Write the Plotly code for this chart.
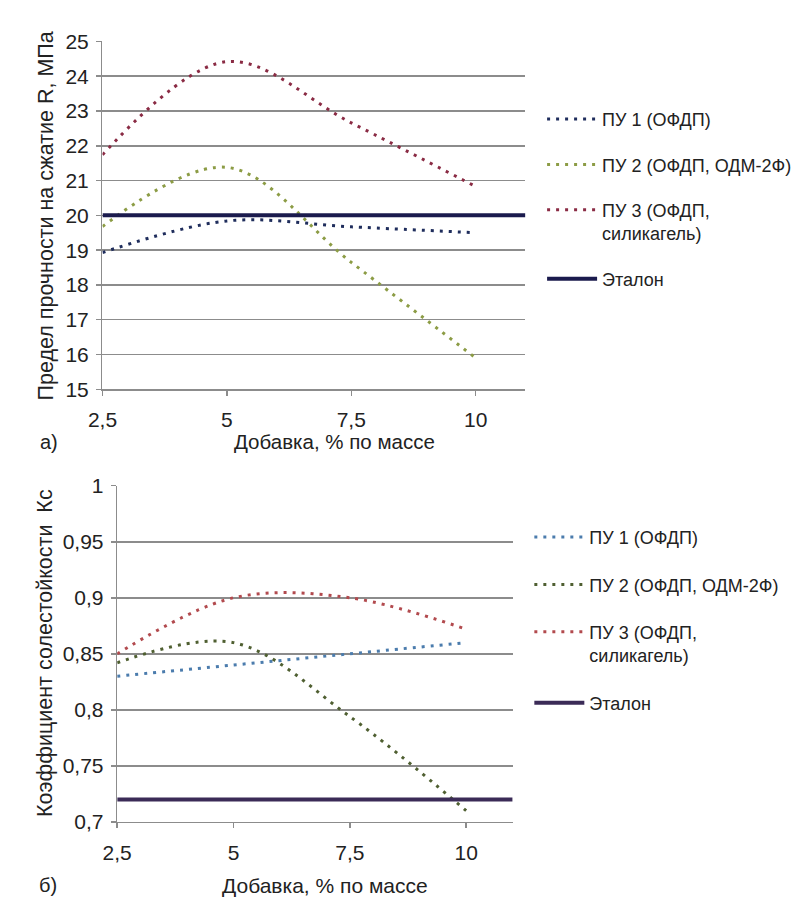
import plotly.graph_objects as go

# ---------------- data ----------------
x_vals = [2.5, 5, 7.5, 10]
etalon_x = [2.5, 11]

top_pu1 = [18.93, 19.84, 19.67, 19.5]
top_pu2 = [19.68, 21.38, 18.65, 15.9]
top_pu3 = [21.74, 24.42, 22.66, 20.83]
top_etalon = [20, 20]

bot_pu1 = [0.83, 0.84, 0.85, 0.86]
bot_pu2 = [0.842, 0.86, 0.794, 0.71]
bot_pu3 = [0.85, 0.90, 0.90, 0.872]
bot_etalon = [0.72, 0.72]

names = ["ПУ 1 (ОФДП)", "ПУ 2 (ОФДП, ОДМ-2Ф)", "ПУ 3 (ОФДП,<br>силикагель)", "Эталон"]

top_colors = ["#1f2d5c", "#8c9c45", "#8a2b44", "#1b1b4d"]
bot_colors = ["#4b7cad", "#4f5f31", "#b24a4e", "#3b2b57"]

W, H = 801, 897
FONT = "Liberation Sans, Arial, sans-serif"
GRID = "#8c8c8c"
DOT = "3px,6px"


def px_x(p):
    return p / W


def px_y(p):
    return 1 - p / H


fig = go.Figure()

# top chart traces
for i, ys in enumerate([top_pu1, top_pu2, top_pu3]):
    fig.add_trace(go.Scatter(
        x=x_vals, y=ys, mode="lines", name=names[i],
        line=dict(color=top_colors[i], width=3, dash=DOT, shape="spline", smoothing=1),
        xaxis="x", yaxis="y", legend="legend", legendgroup="t%d" % i,
    ))
fig.add_trace(go.Scatter(
    x=etalon_x, y=top_etalon, mode="lines", name=names[3],
    line=dict(color=top_colors[3], width=4),
    xaxis="x", yaxis="y", legend="legend", legendgroup="t3",
))

# bottom chart traces
for i, ys in enumerate([bot_pu1, bot_pu2, bot_pu3]):
    fig.add_trace(go.Scatter(
        x=x_vals, y=ys, mode="lines", name=names[i],
        line=dict(color=bot_colors[i], width=3, dash=DOT, shape="spline", smoothing=1),
        xaxis="x2", yaxis="y2", legend="legend2", legendgroup="b%d" % i,
    ))
fig.add_trace(go.Scatter(
    x=etalon_x, y=bot_etalon, mode="lines", name=names[3],
    line=dict(color=bot_colors[3], width=4),
    xaxis="x2", yaxis="y2", legend="legend2", legendgroup="b3",
))

tickfont = dict(family=FONT, size=21, color="#222222")
xcommon = dict(range=[2.5, 11], tick0=2.5, dtick=2.5, showgrid=False, showline=True,
               linecolor=GRID, linewidth=1.5, ticks="outside", ticklen=5, tickcolor=GRID,
               tickwidth=1.5, tickfont=tickfont, zeroline=False, fixedrange=True,
               ticklabelstandoff=6)
ycommon = dict(showgrid=True, gridcolor=GRID, gridwidth=1.5, showline=True, linecolor=GRID,
               linewidth=1.5, ticks="outside", ticklen=5, tickcolor=GRID, tickwidth=1.5,
               tickfont=tickfont, zeroline=False, fixedrange=True, ticklabelstandoff=3)

legfont = dict(family=FONT, size=18, color="#222222")

fig.update_layout(
    width=W, height=H,
    margin=dict(l=0, r=0, t=0, b=0),
    paper_bgcolor="white", plot_bgcolor="white",
    separators=", ",
    hovermode=False,
    font=dict(family=FONT, color="#222222"),
    xaxis=dict(domain=[px_x(81), px_x(512)], anchor="y", **xcommon),
    yaxis=dict(domain=[px_y(379), px_y(22)], anchor="x", range=[15, 25], dtick=1, **ycommon),
    xaxis2=dict(domain=[px_x(96), px_x(499)], anchor="y2", **xcommon),
    yaxis2=dict(domain=[px_y(823), px_y(478)], anchor="x2", range=[0.7, 1], dtick=0.05, **ycommon),
    legend=dict(x=px_x(529), y=px_y(83), xanchor="left", yanchor="top", font=legfont,
                traceorder="grouped", tracegroupgap=19, itemwidth=50, valign="top",
                bgcolor="rgba(0,0,0,0)"),
    legend2=dict(x=px_x(516), y=px_y(512), xanchor="left", yanchor="top", font=legfont,
                 traceorder="grouped", tracegroupgap=21, itemwidth=50, valign="top",
                 bgcolor="rgba(0,0,0,0)"),
    annotations=[
        dict(text="Добавка, % по массе", x=px_x(317), y=px_y(433), xref="paper", yref="paper",
             showarrow=False, font=dict(family=FONT, size=20.5), xanchor="center", yanchor="middle"),
        dict(text="Добавка, % по массе", x=px_x(308), y=px_y(888), xref="paper", yref="paper",
             showarrow=False, font=dict(family=FONT, size=21), xanchor="center", yanchor="middle"),
        dict(text="а)", x=px_x(26), y=px_y(433), xref="paper", yref="paper",
             showarrow=False, font=dict(family=FONT, size=20), xanchor="center", yanchor="middle"),
        dict(text="б)", x=px_x(25), y=px_y(888), xref="paper", yref="paper",
             showarrow=False, font=dict(family=FONT, size=20), xanchor="center", yanchor="middle"),
        dict(text="Предел прочности на сжатие R, МПа", x=px_x(23), y=px_y(201), xref="paper",
             yref="paper", showarrow=False, textangle=-90, font=dict(family=FONT, size=21.5),
             xanchor="center", yanchor="middle"),
        dict(text="Коэффициент солестойкости  Кс", x=px_x(23), y=px_y(650), xref="paper",
             yref="paper", showarrow=False, textangle=-90, font=dict(family=FONT, size=21.5),
             xanchor="center", yanchor="middle"),
    ],
)

fig.write_html("out.html", config={"displayModeBar": False, "staticPlot": True})
